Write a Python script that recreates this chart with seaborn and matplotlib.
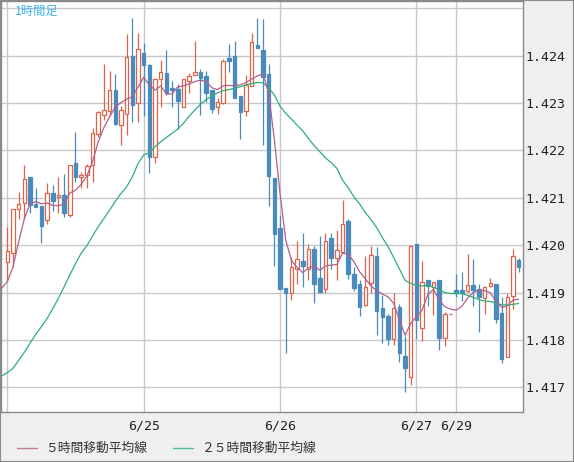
import matplotlib
matplotlib.use("Agg")
import matplotlib.pyplot as plt
from matplotlib.lines import Line2D
from matplotlib.patches import Rectangle
import numpy as np
import seaborn as sns

# --- hourly candles (index 0 = 6/24 00:00) ---
opens = [1.41964, 1.41983, 1.42077, 1.42088, 1.42144, 1.42087, 1.42082, 1.42054, 1.42111, 1.42101,
         1.42106, 1.42064, 1.42174, 1.42143, 1.42149, 1.42168, 1.42234, 1.42274, 1.42283, 1.42327,
         1.42254, 1.42276, 1.42399, 1.42300, 1.42405, 1.42380, 1.42186, 1.42351, 1.42363, 1.42331,
         1.42329, 1.42292, 1.42347, 1.42359, 1.42365, 1.42357, 1.42327, 1.42292, 1.42300, 1.42395,
         1.42399, 1.42314, 1.42284, 1.42336, 1.42422, 1.42411, 1.42361, 1.42141, 1.42036, 1.41909,
         1.41900, 1.41949, 1.41966, 1.41949, 1.41992, 1.41930, 1.41907, 1.42015, 1.41973, 1.41985,
         1.42051, 1.41939, 1.41918, 1.41874, 1.41921, 1.41977, 1.41867, 1.41851, 1.41802, 1.41870,
         1.41766, 1.41721, 1.42002, 1.41826, 1.41926, 1.41911, 1.41926, 1.41805, 1.41855, 1.41905,
         1.41905, 1.41904, 1.41915, 1.41907, 1.41888, 1.41913, 1.41917, 1.41857, 1.41765, 1.41893,
         1.41968]
highs = [1.42039, 1.42077, 1.42112, 1.42169, 1.42144, 1.42120, 1.42082, 1.42132, 1.42127, 1.42144,
         1.42150, 1.42170, 1.42238, 1.42155, 1.42172, 1.42248, 1.42283, 1.42382, 1.42368, 1.42361,
         1.42293, 1.42445, 1.42479, 1.42447, 1.42427, 1.42382, 1.42350, 1.42390, 1.42411, 1.42347,
         1.42340, 1.42350, 1.42364, 1.42430, 1.42371, 1.42368, 1.42327, 1.42310, 1.42392, 1.42424,
         1.42430, 1.42314, 1.42359, 1.42447, 1.42479, 1.42477, 1.42382, 1.42141, 1.42063, 1.41909,
         1.41974, 1.42009, 1.42025, 1.42002, 1.41998, 1.42019, 1.42026, 1.42025, 1.42032, 1.42095,
         1.42056, 1.41954, 1.41926, 1.41978, 1.41999, 1.41997, 1.41895, 1.41855, 1.41900, 1.41875,
         1.41808, 1.42000, 1.42002, 1.41966, 1.41926, 1.41923, 1.41926, 1.41858, 1.41855, 1.41939,
         1.41943, 1.41981, 1.41971, 1.41919, 1.41914, 1.41930, 1.41919, 1.41891, 1.41900, 1.41992,
         1.41973]
lows = [1.41926, 1.41954, 1.42056, 1.42056, 1.42067, 1.42080, 1.42004, 1.42044, 1.42073, 1.42067,
        1.42060, 1.42060, 1.42134, 1.42120, 1.42120, 1.42134, 1.42229, 1.42264, 1.42272, 1.42254,
        1.42211, 1.42232, 1.42260, 1.42260, 1.42273, 1.42153, 1.42174, 1.42292, 1.42317, 1.42292,
        1.42246, 1.42292, 1.42321, 1.42359, 1.42274, 1.42302, 1.42279, 1.42276, 1.42298, 1.42366,
        1.42311, 1.42224, 1.42273, 1.42336, 1.42416, 1.42211, 1.42083, 1.41956, 1.41908, 1.41773,
        1.41885, 1.41917, 1.41912, 1.41926, 1.41878, 1.41900, 1.41900, 1.41950, 1.41926, 1.41985,
        1.41928, 1.41903, 1.41850, 1.41872, 1.41900, 1.41811, 1.41794, 1.41789, 1.41789, 1.41753,
        1.41691, 1.41706, 1.41802, 1.41797, 1.41872, 1.41853, 1.41779, 1.41788, 1.41855, 1.41891,
        1.41882, 1.41900, 1.41872, 1.41817, 1.41855, 1.41911, 1.41835, 1.41752, 1.41765, 1.41866,
        1.41943]
closes = [1.41987, 1.42077, 1.42087, 1.42139, 1.42084, 1.42081, 1.42041, 1.42111, 1.42094, 1.42106,
          1.42068, 1.42170, 1.42144, 1.42148, 1.42167, 1.42236, 1.42281, 1.42285, 1.42327, 1.42255,
          1.42285, 1.42397, 1.42296, 1.42413, 1.42381, 1.42186, 1.42350, 1.42366, 1.42321, 1.42327,
          1.42305, 1.42350, 1.42357, 1.42365, 1.42352, 1.42321, 1.42287, 1.42301, 1.42388, 1.42388,
          1.42311, 1.42281, 1.42337, 1.42428, 1.42416, 1.42355, 1.42146, 1.42024, 1.41908, 1.41900,
          1.41954, 1.41971, 1.41956, 1.41992, 1.41917, 1.41902, 1.42008, 1.41973, 1.41990, 1.42044,
          1.41939, 1.41909, 1.41870, 1.41911, 1.41979, 1.41861, 1.41849, 1.41802, 1.41867, 1.41772,
          1.41741, 1.41998, 1.41842, 1.41923, 1.41914, 1.41923, 1.41805, 1.41855, 1.41855, 1.41900,
          1.41898, 1.41915, 1.41905, 1.41891, 1.41911, 1.41921, 1.41845, 1.41760, 1.41890, 1.41977,
          1.41953]

# moving averages as drawn, starting one bar before the first candle
ma_start = -1
ma5 = [1.41909, 1.41923, 1.41954, 1.42007, 1.42056, 1.42087, 1.42092, 1.42087, 1.42089, 1.42084,
       1.42083, 1.42087, 1.42110, 1.42116, 1.42128, 1.42146, 1.42176, 1.42218, 1.42248, 1.42271,
       1.42291, 1.42301, 1.42308, 1.42313, 1.42333, 1.42354, 1.42338, 1.42327, 1.42336, 1.42319,
       1.42319, 1.42334, 1.42336, 1.42340, 1.42345, 1.42348, 1.42345, 1.42332, 1.42328, 1.42336,
       1.42337, 1.42336, 1.42338, 1.42343, 1.42350, 1.42357, 1.42361, 1.42321, 1.42222, 1.42109,
       1.42011, 1.41968, 1.41953, 1.41942, 1.41952, 1.41956, 1.41947, 1.41956, 1.41958, 1.41959,
       1.41983, 1.41981, 1.41965, 1.41944, 1.41929, 1.41914, 1.41904, 1.41897, 1.41891, 1.41877,
       1.41843, 1.41810, 1.41835, 1.41849, 1.41863, 1.41895, 1.41907, 1.41884, 1.41870, 1.41865,
       1.41863, 1.41871, 1.41888, 1.41900, 1.41905, 1.41904, 1.41900, 1.41881, 1.41869, 1.41872,
       1.41884, 1.41886]
ma25 = [1.41724, 1.41731, 1.41740, 1.41757, 1.41774, 1.41793, 1.41812, 1.41828, 1.41845, 1.41866,
        1.41888, 1.41912, 1.41937, 1.41961, 1.41983, 1.41999, 1.42019, 1.42039, 1.42056, 1.42074,
        1.42092, 1.42109, 1.42123, 1.42144, 1.42172, 1.42190, 1.42195, 1.42208, 1.42218, 1.42227,
        1.42236, 1.42245, 1.42257, 1.42272, 1.42285, 1.42297, 1.42307, 1.42315, 1.42321, 1.42326,
        1.42328, 1.42331, 1.42334, 1.42338, 1.42341, 1.42343, 1.42342, 1.42332, 1.42317, 1.42293,
        1.42278, 1.42266, 1.42253, 1.42241, 1.42225, 1.42210, 1.42197, 1.42184, 1.42174, 1.42162,
        1.42137, 1.42121, 1.42102, 1.42087, 1.42069, 1.42054, 1.42037, 1.42016, 1.41997, 1.41974,
        1.41950, 1.41926, 1.41919, 1.41915, 1.41914, 1.41915, 1.41911, 1.41906, 1.41900, 1.41898,
        1.41898, 1.41898, 1.41894, 1.41890, 1.41885, 1.41882, 1.41881, 1.41878, 1.41874, 1.41874,
        1.41875, 1.41877]

day_ticks = [0, 24, 48, 72, 79]
day_labels = ["", "6/25", "6/26", "6/27", "6/29"]
price_ticks = [1.417, 1.418, 1.419, 1.420, 1.421, 1.422, 1.423, 1.424, 1.425]
price_labels = ["1.417", "1.418", "1.419", "1.420", "1.421", "1.422", "1.423", "1.424", ""]

title = "1時間足"
legend_labels = ["５時間移動平均線", "２５時間移動平均線"]

UP = "#d9664a"
DOWN = "#4a8bbf"
MA5_C = "#b45f8c"
MA25_C = "#2db075"
GRID = "#c8c8c8"

sns.set_theme(style="white")
plt.rcParams["font.family"] = ["DejaVu Sans", "Noto Sans CJK JP"]

W, H = 574, 462
fig = plt.figure(figsize=(W / 100, H / 100), dpi=100, facecolor="#efefef")
ax = fig.add_axes([1 / W, 50 / H, 522 / W, 411 / H])
ax.set_facecolor("white")

idx = np.arange(len(opens))
o, h, l, c = map(np.array, (opens, highs, lows, closes))
up = c >= o
cols = np.where(up, UP, DOWN)

# wicks then bodies (hollow up candles cover the wick with white)
ax.vlines(idx, l, h, colors=cols, linewidth=0.9, zorder=2)
body_w = 0.62
ax.bar(idx[up], c[up] - o[up], bottom=o[up], width=body_w,
       facecolor="white", edgecolor=UP, linewidth=0.9, zorder=3)
ax.bar(idx[~up], o[~up] - c[~up], bottom=c[~up], width=body_w,
       facecolor=DOWN, edgecolor=DOWN, linewidth=0.9, zorder=3)

ma_x = np.arange(ma_start, ma_start + len(ma5))
sns.lineplot(x=ma_x, y=ma25, ax=ax, color=MA25_C, linewidth=0.9, zorder=4)
sns.lineplot(x=ma_x, y=ma5, ax=ax, color=MA5_C, linewidth=0.9, zorder=5)

ax.set_xlim(-1.11, 90.76)
ax.set_ylim(1.41648, 1.42515)

ax.set_xticks(day_ticks)
ax.set_xticklabels(day_labels)
ax.set_yticks(price_ticks)
ax.set_yticklabels(price_labels)
ax.yaxis.tick_right()
ax.tick_params(axis="both", length=0, labelsize=9.5, colors="#222222")
ax.tick_params(axis="x", pad=5.5)
ax.tick_params(axis="y", pad=2)
for lab in ax.get_xticklabels() + ax.get_yticklabels():
    lab.set_family("DejaVu Sans Mono")
ax.grid(True, color=GRID, linewidth=1.0)
ax.set_axisbelow(True)
ax.set_xlabel("")
ax.set_ylabel("")
for side in ax.spines:
    ax.spines[side].set_color("#8a8a8a")
    ax.spines[side].set_linewidth(1.0)

fig.text(15 / W, 1 - 11 / H, title, color="#3db5e6", fontsize=8.8,
         va="center", ha="left", family=["Noto Sans CJK JP", "DejaVu Sans"])

# legend along the bottom strip
ly = 1 - 448 / H
for (x0, x1, tx), lab, col in zip([(16.5, 36.6, 45.5), (173, 193, 201)], legend_labels, [MA5_C, MA25_C]):
    fig.add_artist(Line2D([x0 / W, x1 / W], [ly, ly], color=col, linewidth=1.0, alpha=0.8))
    fig.text(tx / W, ly, lab, fontsize=9.2, color="#333333", va="center", ha="left",
             family=["Noto Sans CJK JP", "DejaVu Sans"])

fig.add_artist(Rectangle((0, 0), 1, 1, transform=fig.transFigure, fill=False,
                         edgecolor="#8a8a8a", linewidth=1.5))

fig.savefig("out.png", dpi=100, facecolor=fig.get_facecolor())
